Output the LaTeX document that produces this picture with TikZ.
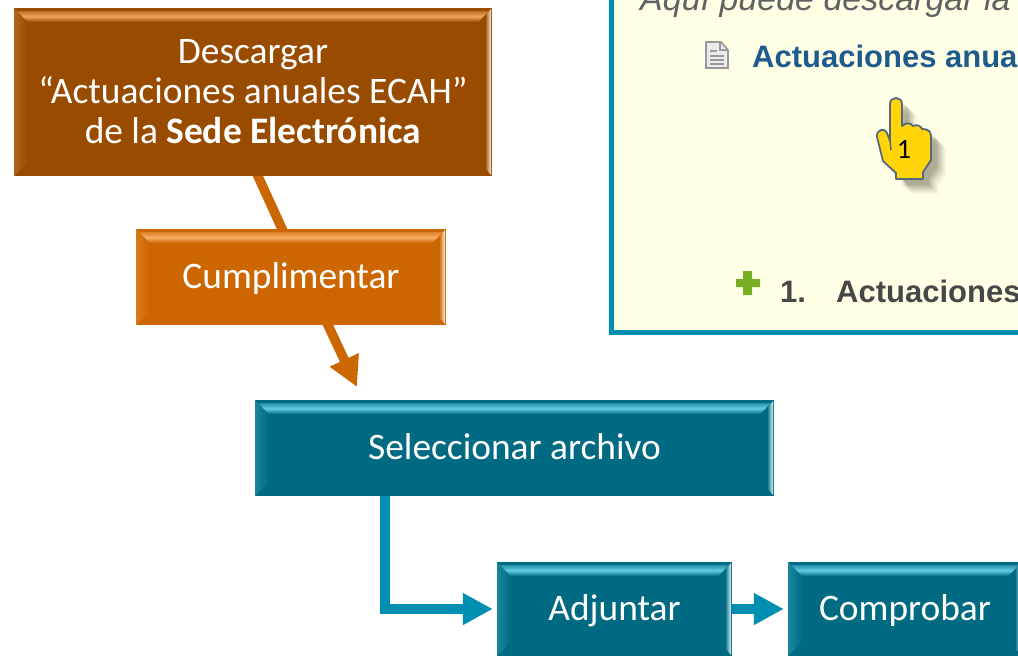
\documentclass[tikz,border=0pt]{standalone}
\usepackage{fontspec}
\setmainfont{Carlito}
\newfontfamily\webfont{Liberation Sans}
\usetikzlibrary{arrows.meta,calc,backgrounds}
\definecolor{brownbox}{HTML}{994C00}
\definecolor{brownlight}{HTML}{F0A65E}
\definecolor{orangebox}{HTML}{CC6600}
\definecolor{orangelight}{HTML}{F8AE62}
\definecolor{tealbox}{HTML}{006A82}
\definecolor{teallight}{HTML}{62CCE2}
\definecolor{arrowteal}{HTML}{008FB0}
\definecolor{panelfill}{HTML}{FFFFE6}
\definecolor{linkblue}{HTML}{1F5A8C}
\definecolor{handfill}{HTML}{FFD408}
\definecolor{handline}{HTML}{566879}
\definecolor{plusgreen}{HTML}{78AE24}
\newcommand\bevelfaces[2]{%
  \coordinate (nw) at (path picture bounding box.north west);
  \coordinate (ne) at (path picture bounding box.north east);
  \coordinate (sw) at (path picture bounding box.south west);
  \coordinate (se) at (path picture bounding box.south east);
  \fill[left color=#1!72!#2,right color=#1] (nw) -- ($(nw)+(14,14)$) -- ($(sw)+(14,-14)$) -- (sw) -- cycle;
  \fill[top color=#1!60!#2,bottom color=#1,middle color=#2] ($(nw)+(3,3)$) -- ($(ne)+(-3,3)$) -- ($(ne)+(-14,14)$) -- ($(nw)+(14,14)$) -- cycle;
  \fill[left color=#1,middle color=#2,right color=white!78!#2] ($(ne)+(-7,8)$) -- ($(ne)+(-1,1)$) -- ($(se)+(-1,-1)$) -- ($(se)+(-7,-8)$) -- cycle;
}
\newcommand\nudgetext[2]{\raisebox{#1}[\height][\depth]{#2}}
\tikzset{
  x=1pt,y=-1pt,
  basebox/.style={rectangle,inner sep=0pt,text=white,align=center,font=\fontsize{37.4}{40}\selectfont},
  brownstep/.style={basebox,fill=brownbox,path picture={\bevelfaces{brownbox}{brownlight}}},
  orangestep/.style={basebox,fill=orangebox,path picture={\bevelfaces{orangebox}{orangelight}}},
  tealstep/.style={basebox,fill=tealbox,path picture={\bevelfaces{tealbox}{teallight}}},
  orangeline/.style={draw=orangebox,line width=9.5pt},
  tealline/.style={draw=arrowteal,line width=10pt},
  bighead/.style={-{Triangle[length=30pt,width=30pt]}},
  webtext/.style={inner sep=0pt,anchor=base west},
  handpath/.style={line join=round},
}
\begin{document}
\begin{tikzpicture}
\useasboundingbox (0,0) rectangle (1018,656);
\clip (0,0) rectangle (1018,656);
% panel
\node[rectangle,draw=arrowteal,fill=panelfill,line width=5pt,inner sep=0pt,minimum width=426pt,minimum height=365pt] (panel) at (824.5,150) {};
\node[webtext,text=black!62,font=\webfont\itshape\fontsize{34}{38}\selectfont] (intro) at (640,10) {Aquí puede descargar la};
\node[webtext,text=linkblue,font=\webfont\bfseries\fontsize{31}{36}\selectfont] (link) at (752,67) {Actuaciones anua};
\node[webtext,text=black!72,font=\webfont\bfseries\fontsize{31}{36}\selectfont] (num) at (780,302) {1.};
\node[webtext,text=black!72,font=\webfont\bfseries\fontsize{31}{36}\selectfont] (item) at (836,302) {Actuaciones};
% doc icon
\fill[white!92!black,draw=black!40,line width=1.6pt] (706,42) -- (721,42) -- (728,50) -- (728,68) -- (706,68) -- cycle;
\draw[black!40,line width=1.4pt] (720,42) -- (720,50) -- (728,50) (710,51) -- (717,51) (710,56) -- (724,56) (710,60) -- (724,60) (710,64) -- (724,64);
% plus icon
\fill[plusgreen] (743,271) -- (752,271) -- (752,279) -- (760,279) -- (760,287) -- (752,287) -- (752,295) -- (743,295) -- (743,287) -- (736,287) -- (736,279) -- (743,279) -- cycle;
% hand
\def\handoutline{(890,104) .. controls (890,96) and (902,96) .. (902,104) -- (902,126)
  .. controls (906,122) and (911,123) .. (913,126) .. controls (917,124) and (921,126) .. (922,129)
  .. controls (926,129) and (931,130) .. (931,136) -- (931,160) -- (923,172) -- (923,179) -- (896,179) -- (896,173)
  -- (883,161) -- (877,137) .. controls (876,130) and (884,127) .. (887,133) -- (890,141) -- cycle}
\foreach \d/\o in {15/.04,13.5/.05,12/.06,10.5/.07,9/.09,7.5/.1,6/.1}{
  \fill[black!70!olive,opacity=\o,shift={(\d,\d)}] \handoutline;
}
\fill[draw=handline,fill=handfill,line width=1.8pt,handpath] \handoutline;
\draw[handline,line width=1.4pt] (890,140) -- (891,150);
\node[inner sep=0pt,font=\fontsize{28}{32}\selectfont,text=black] (handnum) at (904,149) {1};
% boxes
\node[brownstep,minimum width=478pt,minimum height=168pt] (desc) at (253,92)
  {Descargar\\“Actuaciones anuales ECAH”\\de la \textbf{Sede Electrónica}};
\node[orangestep,minimum width=310pt,minimum height=96pt] (cump) at (291,277) {\nudgetext{-1.5pt}{Cumplimentar}};
\node[tealstep,minimum width=519pt,minimum height=96pt] (sel) at (514.5,448) {\nudgetext{1pt}{Seleccionar archivo}};
\node[tealstep,minimum width=235pt,minimum height=94pt] (adj) at (614.5,609) {\nudgetext{-2pt}{Adjuntar}};
\node[tealstep,minimum width=234pt,minimum height=94pt] (comp) at (905,609) {\nudgetext{-2pt}{Comprobar}};
% connectors
\coordinate (cumptip) at (357,387);
\begin{scope}[on background layer]
\draw[orangeline,shorten <=-5pt,shorten >=-5pt] ($(desc.south)+(5,0)$) -- ($(cump.north)+(-9,0)$);
\draw[orangeline,bighead,shorten <=-5pt] ($(cump.south)+(37,0)$) -- (cumptip);
\end{scope}
\draw[tealline,bighead] ($(sel.south)+(-129.5,0)$) |- ($(adj.west)+(-4,0)$);
\draw[tealline,bighead] (adj.east) -- ($(comp.west)+(-4,0)$);
\end{tikzpicture}
\end{document}
